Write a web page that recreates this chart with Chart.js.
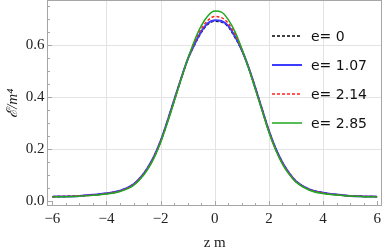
<!DOCTYPE html>
<html lang="en">
<head>
<meta charset="UTF-8">
<title>Energy density profile</title>
<style>
    body { margin: 0; background: #ffffff; }
    #wrap { width: 382px; height: 252px; }
</style>
</head>
<body>
<div id="wrap"><canvas id="myChart" width="382" height="252"></canvas></div>

<script src="https://cdn.jsdelivr.net/npm/chart.js"></script>
<script>
    // z positions (units of 1/m)
    const zs = [-6, -5.5, -5, -4.5, -4, -3.5, -3,
        -2.75, -2.5, -2.25, -2, -1.75, -1.5, -1.25, -1, -0.75, -0.5, -0.25, 0,
        0.25, 0.5, 0.75, 1, 1.25, 1.5, 1.75, 2, 2.25, 2.5, 2.75,
        3, 3.5, 4, 4.5, 5, 5.5, 6];

    // energy density / m^4, one list per value of e
    const e0 = [0.016, 0.017, 0.019, 0.023, 0.029, 0.039, 0.064,
        0.089, 0.124, 0.170, 0.231, 0.307, 0.389, 0.469, 0.545, 0.601, 0.649, 0.682, 0.693,
        0.690, 0.671, 0.630, 0.580, 0.514, 0.436, 0.353, 0.271, 0.202, 0.148, 0.107,
        0.076, 0.044, 0.031, 0.024, 0.019, 0.017, 0.016];
    const e107 = [0.016, 0.017, 0.019, 0.023, 0.029, 0.039, 0.064,
        0.089, 0.124, 0.170, 0.231, 0.307, 0.389, 0.470, 0.546, 0.604, 0.653, 0.686, 0.697,
        0.694, 0.675, 0.634, 0.582, 0.515, 0.436, 0.353, 0.271, 0.202, 0.148, 0.107,
        0.076, 0.044, 0.031, 0.024, 0.019, 0.017, 0.016];
    const e214 = [0.016, 0.017, 0.019, 0.022, 0.028, 0.038, 0.062,
        0.087, 0.121, 0.167, 0.228, 0.304, 0.386, 0.469, 0.546, 0.611, 0.663, 0.697, 0.711,
        0.707, 0.685, 0.642, 0.584, 0.514, 0.433, 0.350, 0.268, 0.199, 0.145, 0.105,
        0.074, 0.043, 0.030, 0.023, 0.019, 0.017, 0.016];
    const e285 = [0.015, 0.016, 0.018, 0.021, 0.026, 0.036, 0.060,
        0.084, 0.118, 0.164, 0.225, 0.301, 0.383, 0.467, 0.546, 0.618, 0.675, 0.714, 0.732,
        0.728, 0.699, 0.652, 0.587, 0.512, 0.430, 0.347, 0.265, 0.196, 0.142, 0.102,
        0.072, 0.041, 0.028, 0.022, 0.019, 0.016, 0.015];

    const seriesLabels = ['e= 0', 'e= 1.07', 'e= 2.14', 'e= 2.85'];

    // tick labels
    const xTicks = [-6, -4, -2, 0, 2, 4, 6];
    const yTicks = [0.0, 0.2, 0.4, 0.6];

    const pts = arr => zs.map((z, i) => ({ x: z, y: arr[i] }));

    const serif = "'Liberation Serif', 'DejaVu Serif', serif";
    const frameColor = '#a6a6a6';
    const gridColor = '#e3e3e3';

    // grid lines, inward ticks and the frame, Mathematica style
    const framePlugin = {
        id: 'frame',
        beforeDatasetsDraw(chart) {
            const { ctx, chartArea: a, scales: { x, y } } = chart;
            const L = Math.floor(a.left) + 0.5, R = Math.floor(a.right) - 0.5;
            const T = Math.floor(a.top) + 0.5, B = Math.floor(a.bottom) - 0.5;
            ctx.save();
            ctx.lineWidth = 1;
            ctx.strokeStyle = gridColor;
            ctx.beginPath();
            [-4, -2, 0, 2, 4].forEach(v => {
                const px = Math.round(x.getPixelForValue(v)) + 0.5;
                ctx.moveTo(px, T); ctx.lineTo(px, B);
            });
            [0.2, 0.4, 0.6].forEach(v => {
                const py = Math.round(y.getPixelForValue(v)) + 0.5;
                ctx.moveTo(L, py); ctx.lineTo(R, py);
            });
            ctx.stroke();

            ctx.strokeStyle = frameColor;
            ctx.beginPath();
            for (let v = -6; v <= 6.001; v += 0.5) {
                const px = Math.round(x.getPixelForValue(v)) + 0.5;
                const len = Math.abs(v % 2) < 0.01 ? 4.5 : 2.5;
                ctx.moveTo(px, B); ctx.lineTo(px, B - len);
            }
            for (let v = 0; v <= 0.76; v += 0.05) {
                const py = Math.round(y.getPixelForValue(v)) + 0.5;
                const len = Math.abs((v * 5) - Math.round(v * 5)) < 0.01 ? 4.5 : 2.5;
                ctx.moveTo(L, py); ctx.lineTo(L + len, py);
            }
            ctx.stroke();
            ctx.strokeRect(L, T, R - L, B - T);
            ctx.restore();
        }
    };

    // legend inside the plot on the right
    const legendPlugin = {
        id: 'insideLegend',
        afterDatasetsDraw(chart) {
            const { ctx } = chart;
            ctx.save();
            ctx.font = "14px 'DejaVu Sans', sans-serif";
            ctx.textBaseline = 'middle';
            chart.data.datasets.forEach((ds, i) => {
                const yy = 36 + i * 29;
                ctx.strokeStyle = ds.borderColor;
                ctx.lineWidth = ds.borderWidth;
                ctx.setLineDash(ds.borderDash || []);
                ctx.beginPath();
                ctx.moveTo(272, yy); ctx.lineTo(302, yy);
                ctx.stroke();
                ctx.setLineDash([]);
                ctx.fillStyle = '#111';
                ctx.fillText(ds.label, 311, yy + 1);
            });
            ctx.restore();
        }
    };

    const ctx = document.getElementById('myChart').getContext('2d');

    const myChart = new Chart(ctx, {
        type: 'line',
        data: {
            datasets: [
                { label: seriesLabels[0], data: pts(e0), borderColor: '#000000', borderWidth: 1.5, borderDash: [3, 2], order: 4 },
                { label: seriesLabels[1], data: pts(e107), borderColor: '#3c3cff', borderWidth: 2, order: 3 },
                { label: seriesLabels[2], data: pts(e214), borderColor: '#ff2020', borderWidth: 1.5, borderDash: [3, 2], order: 2 },
                { label: seriesLabels[3], data: pts(e285), borderColor: '#1fa81f', borderWidth: 1.5, order: 1 }
            ]
        },
        options: {
            responsive: false,
            animation: false,
            elements: {
                point: { radius: 0 },
                line: { cubicInterpolationMode: 'monotone', fill: false }
            },
            layout: { padding: { top: 0.5, right: 0, left: 0, bottom: 0 } },
            plugins: {
                legend: { display: false },
                tooltip: { enabled: false }
            },
            scales: {
                x: {
                    type: 'linear',
                    min: -6.18,
                    max: 6.18,
                    grid: { display: false, drawTicks: false },
                    border: { display: false },
                    afterBuildTicks: s => { s.ticks = xTicks.map(v => ({ value: v })); },
                    afterFit: s => { s.height = 46; s.paddingLeft = 0; s.paddingRight = 0; },
                    ticks: {
                        padding: 4,
                        color: '#222',
                        font: { family: serif, size: 15 },
                        callback: v => (v < 0 ? '\u2212' + Math.abs(v) : String(v))
                    },
                    title: {
                        display: true,
                        text: 'z m',
                        color: '#222',
                        font: { family: serif, size: 15 },
                        padding: { top: 3, bottom: 0 }
                    }
                },
                y: {
                    min: -0.02,
                    max: 0.773,
                    grid: { display: false, drawTicks: false },
                    border: { display: false },
                    afterBuildTicks: s => { s.ticks = yTicks.map(v => ({ value: v })); },
                    afterFit: s => { s.width = 47.5; s.paddingTop = 0; s.paddingBottom = 0; },
                    ticks: {
                        padding: 3,
                        color: '#222',
                        font: { family: serif, size: 15 },
                        callback: v => v.toFixed(1)
                    },
                    title: {
                        display: true,
                        text: '\u2130/m\u2074',
                        color: '#222',
                        font: { family: serif, size: 15, style: 'italic' },
                        padding: { top: 4, bottom: 0 }
                    }
                }
            }
        },
        plugins: [framePlugin, legendPlugin]
    });
</script>
</body>
</html>
